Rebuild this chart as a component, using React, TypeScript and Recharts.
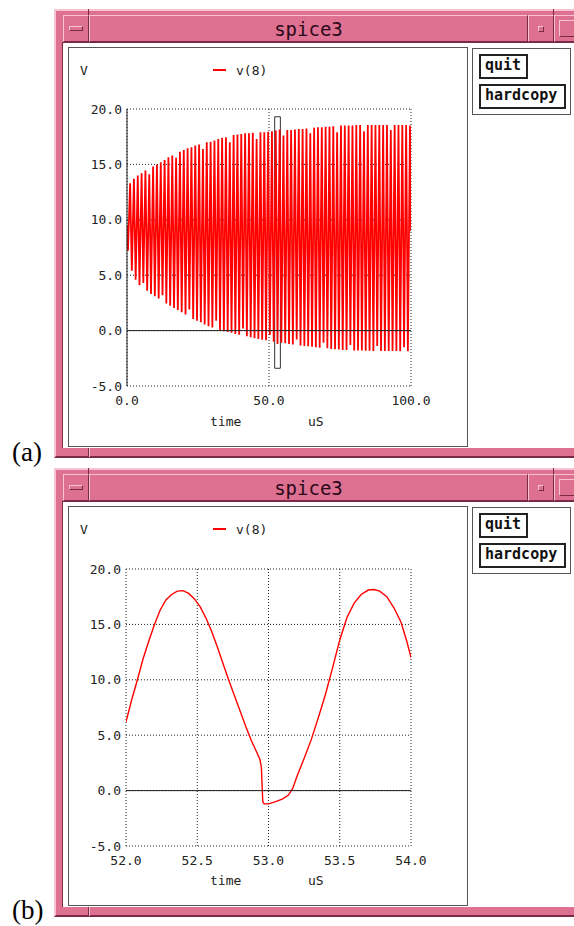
import React from 'react';
import { LineChart, Line, XAxis, YAxis, CartesianGrid, ReferenceLine, ReferenceArea } from 'recharts';

const yTicks = [-5, 0, 5, 10, 15, 20];
const xTicksA = [0, 50, 100];
const xTicksB = [52, 52.5, 53, 53.5, 54];

// (a) 0..100 uS. The ringing is far too fast for the plot, so one trough + one peak per cycle
const cycleA = 1.35; // uS, period
const firstTroughA = 0.35;
const firstPeakA = 1.09;
const startA = 9.5;
const endA = 9.0;
const troughsA = [
  7.2, 5.4, 4.6, 4.1, 4.3, 3.6, 3.3, 3.1, 2.9, 3.2,
  2.45, 2.25, 2.05, 1.85, 1.65, 1.45, 1.9, 1.05, 0.9, 0.75,
  0.55, 0.4, 0.28, 0.9, 0.05, -0.05, -0.12, -0.2, -0.3, -0.38,
  0.2, -0.52, -0.6, -0.68, -0.75, -0.82, -0.88, -0.4, -1.0, -1.2,
  -1.1, -1.15, -1.2, -1.25, -0.8, -1.35, -1.4, -1.42, -1.45, -1.5,
  -1.55, -1.1, -1.6, -1.65, -1.68, -1.7, -1.75, -1.75, -1.3, -1.8,
  -1.8, -1.8, -1.82, -1.82, -1.83, -1.4, -1.84, -1.84, -1.85, -1.85,
  -1.85, -1.86, -1.5, -1.86,
];
const peaksA = [
  13.3, 13.7, 14.0, 14.2, 14.45, 14.1, 14.8, 15.0, 15.2, 15.4,
  15.65, 15.8, 15.6, 16.15, 16.3, 16.45, 16.55, 16.7, 16.8, 16.4,
  17.0, 17.05, 17.15, 17.3, 17.4, 17.45, 17.0, 17.65, 17.7, 17.75,
  17.8, 17.8, 17.85, 17.3, 17.9, 17.9, 17.95, 18.0, 18.05, 18.15,
  17.6, 18.1, 18.1, 18.15, 18.2, 18.2, 18.25, 17.8, 18.3, 18.35,
  18.35, 18.4, 18.4, 18.45, 17.9, 18.5, 18.5, 18.5, 18.5, 18.55,
  18.55, 18.0, 18.55, 18.55, 18.55, 18.55, 18.55, 18.55, 18.1, 18.55,
  18.55, 18.55, 18.55, 18.5,
];

// (b) zoom on 52..54 uS
const timeB = [
  52.0, 52.04, 52.08, 52.12, 52.16, 52.2, 52.24, 52.28, 52.32, 52.36,
  52.4, 52.44, 52.48, 52.52, 52.56, 52.6, 52.64, 52.68, 52.72, 52.76,
  52.8, 52.84, 52.88, 52.92, 52.94, 52.95, 52.955, 52.96, 52.97, 53.0,
  53.05, 53.1, 53.14, 53.17, 53.2, 53.25, 53.3, 53.35, 53.4, 53.45,
  53.5, 53.55, 53.6, 53.65, 53.7, 53.74, 53.78, 53.83, 53.88, 53.93,
  53.97, 54.0,
];
const voltB = [
  6.2, 8.2, 10.0, 11.9, 13.5, 15.0, 16.3, 17.2, 17.7, 18.0,
  18.05, 17.8, 17.3, 16.6, 15.6, 14.4, 13.0, 11.5, 10.0, 8.6,
  7.2, 5.8, 4.5, 3.4, 2.8, 2.1, 0.5, -1.0, -1.2, -1.2,
  -1.0, -0.75, -0.4, 0.2, 1.3, 2.9, 4.6, 6.6, 8.7, 11.1,
  13.6, 15.6, 16.9, 17.7, 18.1, 18.15, 18.0, 17.5, 16.5, 15.2,
  13.5, 12.0,
];

// selection rectangle shown on (a)
const zoomBox = { x1: 52, x2: 54, y1: -3.4, y2: 19.3 };

const dataA: { t: number; v: number }[] = [{ t: 0, v: startA }];
troughsA.forEach((lo, i) => {
  dataA.push({ t: firstTroughA + i * cycleA, v: lo });
  dataA.push({ t: firstPeakA + i * cycleA, v: peaksA[i] });
});
dataA.push({ t: 100, v: endA });

const dataB = timeB.map((t, i) => ({ t, v: voltB[i] }));

const PINK = '#de7092';
const LIGHT = '#f7c2d2';
const DARK = '#7a2a46';
const MONO = "'DejaVu Sans Mono', monospace";
const tickStyle = { fill: '#222', fontSize: 13, fontFamily: MONO };
const fmt = (v: number) => v.toFixed(1);

const Bevel = ({ x, y, w, h, bw = 1, children, style }: any) => (
  <div
    style={{
      position: 'absolute', left: x, top: y, width: w, height: h, boxSizing: 'border-box',
      background: PINK, borderStyle: 'solid', borderWidth: bw,
      borderColor: `${LIGHT} ${DARK} ${DARK} ${LIGHT}`, ...style,
    }}
  >
    {children}
  </div>
);

const Txt = ({ x, y, children, style }: any) => (
  <div style={{ position: 'absolute', left: x, top: y, fontFamily: MONO, fontSize: 13, lineHeight: '15px', color: '#222', whiteSpace: 'pre', ...style }}>
    {children}
  </div>
);

const Frame = ({ off }: { off: number }) => (
  <>
    <Bevel x={54} y={9 + off} w={540} h={449} bw={2} />
    <Bevel x={63} y={15 + off} w={26} h={27}>
      <Bevel x={5} y={10} w={14} h={5} />
    </Bevel>
    <Bevel x={89} y={15 + off} w={439} h={27}
      style={{ display: 'flex', alignItems: 'center', justifyContent: 'center', fontFamily: MONO, fontSize: 19, color: '#2a0a18' }}>
      spice3
    </Bevel>
    <Bevel x={528} y={15 + off} w={26} h={27}>
      <Bevel x={9} y={10} w={6} h={6} />
    </Bevel>
    <Bevel x={554} y={15 + off} w={30} h={27}>
      <Bevel x={4} y={4} w={16} h={17} />
    </Bevel>
    <div style={{ position: 'absolute', left: 88, top: 9 + off, width: 1, height: 6, background: DARK }} />
    <div style={{ position: 'absolute', left: 553, top: 9 + off, width: 1, height: 6, background: DARK }} />
    <div style={{ position: 'absolute', left: 88, top: 448 + off, width: 1, height: 9, background: DARK }} />
    <div style={{ position: 'absolute', left: 89, top: 448 + off, width: 1, height: 9, background: LIGHT }} />
    <div
      style={{
        position: 'absolute', left: 62, top: 42 + off, width: 530, height: 406, background: '#fff',
        borderTop: `1px solid ${DARK}`, borderLeft: `1px solid ${DARK}`, boxSizing: 'border-box',
      }}
    />
  </>
);

const Buttons = ({ off }: { off: number }) => (
  <>
    <div style={{ position: 'absolute', left: 472, top: 48 + off, width: 99, height: 67, border: '1px solid #555', boxSizing: 'border-box' }} />
    {[
      { label: 'quit', y: 54, w: 49 },
      { label: 'hardcopy', y: 84, w: 87 },
    ].map((b) => (
      <div
        key={b.label}
        style={{
          position: 'absolute', left: 479, top: b.y + off, width: b.w, height: 25, border: '2px solid #222',
          boxSizing: 'border-box', fontFamily: MONO, fontWeight: 'bold', fontSize: 15, lineHeight: '19px',
          paddingLeft: 4, color: '#111',
        }}
      >
        {b.label}
      </div>
    ))}
  </>
);

const Scope = ({ data, off, plotLeft, plotTop, plotBottom, xDomain, xTicks, zeroX, box, width }: any) => {
  const chartLeft = 69;
  const chartTop = 48 + off;
  const size = 397;
  const margin = {
    top: plotTop - chartTop,
    left: plotLeft - chartLeft - 50,
    right: chartLeft + size - 411,
    bottom: chartTop + size - plotBottom - 30,
  };
  return (
    <>
      <div style={{ position: 'absolute', left: chartLeft - 1, top: chartTop - 1, width: size + 1, height: size + 1, border: '1px solid #555', background: '#fff' }} />
      <div style={{ position: 'absolute', left: chartLeft, top: chartTop }}>
        <LineChart width={size} height={size} data={data} margin={margin}>
          <CartesianGrid stroke="#222" strokeDasharray="1 2" />
          <XAxis dataKey="t" type="number" domain={xDomain} ticks={xTicks} interval={0} allowDataOverflow
            axisLine={false} tickLine={false} tickSize={0} tickMargin={10} height={30} tick={tickStyle} tickFormatter={fmt} />
          <YAxis type="number" domain={[-5, 20]} ticks={yTicks} interval={0} allowDataOverflow
            axisLine={false} tickLine={false} tickSize={0} tickMargin={5} width={50} tick={tickStyle} tickFormatter={fmt} />
          <Line dataKey="v" type="linear" stroke="#ff0000" strokeWidth={width} dot={false} activeDot={false} isAnimationActive={false} />
          <ReferenceLine y={0} stroke="#222" strokeWidth={1} />
          {zeroX && <ReferenceLine x={0} stroke="#222" strokeWidth={1} />}
          {box && <ReferenceArea x1={box.x1} x2={box.x2} y1={box.y1} y2={box.y2} fill="none" fillOpacity={0} stroke="#333" strokeWidth={1} />}
        </LineChart>
      </div>
      <Txt x={80} y={63 + off}>V</Txt>
      <div style={{ position: 'absolute', left: 213, top: 69 + off, width: 13, height: 2, background: '#ff0000' }} />
      <Txt x={236} y={63 + off}>v(8)</Txt>
      <Txt x={210} y={414 + off}>time</Txt>
      <Txt x={308} y={414 + off}>uS</Txt>
    </>
  );
};

export default function App() {
  return (
    <div style={{ position: 'absolute', left: 0, top: 0, width: 574, height: 926, overflow: 'hidden', background: '#fff' }}>
      <Frame off={0} />
      <Scope data={dataA} off={0} plotLeft={127} plotTop={109} plotBottom={386} xDomain={[0, 100]} xTicks={xTicksA} zeroX box={zoomBox} width={1.8} />
      <Buttons off={0} />
      <div style={{ position: 'absolute', left: 12, top: 437, fontFamily: "'Liberation Serif', serif", fontSize: 27, lineHeight: '30px' }}>(a)</div>

      <Frame off={459} />
      <Scope data={dataB} off={459} plotLeft={126} plotTop={569} plotBottom={846} xDomain={[52, 54]} xTicks={xTicksB} zeroX={false} width={1.4} />
      <Buttons off={459} />
      <div style={{ position: 'absolute', left: 12, top: 895, fontFamily: "'Liberation Serif', serif", fontSize: 27, lineHeight: '30px' }}>(b)</div>
    </div>
  );
}
